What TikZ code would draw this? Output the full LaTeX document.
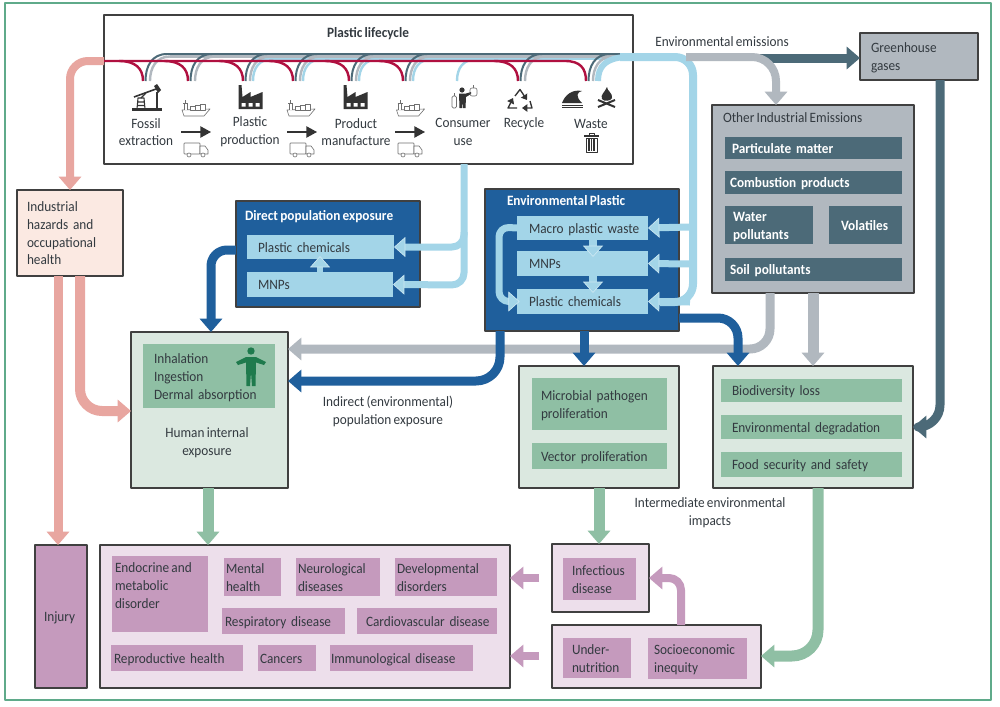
\documentclass[tikz,border=0pt]{standalone}
\usepackage{fontspec}
\setmainfont{Carlito}[FakeStretch=0.93,WordSpace=0.75]
\usetikzlibrary{arrows.meta,calc}
\definecolor{lb}{HTML}{A3D5E8}
\definecolor{halo}{HTML}{CBE7F2}
\definecolor{envblue}{HTML}{1F5F9C}
\definecolor{tealc}{HTML}{4C6A78}
\definecolor{greyc}{HTML}{B1B8BF}
\definecolor{greenc}{HTML}{8FBFA4}
\definecolor{palegreen}{HTML}{DBE8E0}
\definecolor{pinkc}{HTML}{E8A6A0}
\definecolor{palepink}{HTML}{FBE9E2}
\definecolor{purplec}{HTML}{C59ABD}
\definecolor{palepurple}{HTML}{EDDFEB}
\definecolor{redc}{HTML}{B01040}
\definecolor{framec}{HTML}{5FAA8A}
\definecolor{ink}{HTML}{333A40}
\definecolor{iconc}{HTML}{333333}
\definecolor{personc}{HTML}{1F7A4D}
\tikzset{
  txt/.style={text=ink,font=\fontsize{10.7}{13.3}\selectfont,inner sep=0pt,outer sep=0pt},
  boxed/.style={draw=#1,line width=0.9pt},
  plain/.style={line width=0pt,draw=none},
  outer/.style={boxed=black!75},
  wtxt/.style={text=white,font=\fontsize{10.7}{13.3}\selectfont\bfseries},
  arrw/.style n args={3}{draw=#1,line width=#2*0.75pt,rounded corners=#3*0.75pt,line cap=butt,
     -{Triangle[length=10pt,width=16.5pt]}},
  arrh/.style n args={2}{draw=lb,line width=#1*0.75pt,rounded corners=#2*0.75pt,
     -{Triangle[length=8.5pt,width=15pt,fill=lb,color=halo,line width=0.5pt]}},
  icon/.style={fill=iconc,draw=none},
  iconl/.style={draw=iconc!70,line width=0.45pt,fill=white},
  pipe/.style={line width=1.8pt,fill=none},
}
% \bx[options]{name}{x1}{y1}{x2}{y2}{pad}{text}
\newcommand\bx[7][]{%
  \pgfmathsetmacro\bxw{(#5-#3)*0.75}%
  \pgfmathsetmacro\bxp{#7*0.75}%
  \pgfmathsetmacro\bxh{(#6-#4)*0.75}%
  \pgfmathsetmacro\bxcx{(#3+#5)/2}%
  \pgfmathsetmacro\bxcy{(#4+#6)/2}%
  \bxnode{#1}{#2}%
}
\newcommand\bxnode[3]{%
  \node[txt,#1,align=left,anchor=center,inner xsep=0pt,inner ysep=0pt,
        text width=\bxw pt,minimum height=\bxh pt] (#2) at (\bxcx,\bxcy)
        {\hspace*{\bxp pt}\begin{tabular}{@{}l@{}}#3\end{tabular}\vspace*{-2.6pt}};%
}
\newcommand\shipicon[1]{\begin{scope}[shift={(#1,0)}]
  \draw[iconl] (0,110) -- (28,109) -- (22,116) -- (2,116) -- cycle;
  \draw[iconl] (2,110) -- (2,103) -- (5,103) -- (5,110);
  \draw[iconl] (1,103) -- (6,103) (3.5,103) -- (3.5,100);
  \draw[iconl] (8,110) rectangle (13,106);
  \draw[iconl] (13,110) rectangle (18,105);
  \draw[iconl] (18,110) rectangle (23,104);
\end{scope}}
\newcommand\truckicon[1]{\begin{scope}[shift={(#1,0)}]
  \draw[iconl,rounded corners=0.5pt] (0,143) rectangle (16,154);
  \draw[iconl] (16,146) -- (21,146) -- (24,150) -- (24,154) -- (16,154) -- cycle;
  \draw[iconl] (5,155) circle (2);
  \draw[iconl] (19,155) circle (2);
\end{scope}}
\newcommand\factoryicon[1]{\begin{scope}[shift={(#1,0)}]
  \fill[icon] (0,109) -- (0,85) -- (3,85) -- (4,97) -- (12,92) -- (12,97) -- (24,92) -- (24,109) -- cycle;
  \fill[white] (3,103) rectangle (7,106.5) (10,103) rectangle (14,106.5) (17,103) rectangle (21,106.5);
\end{scope}}
\begin{document}
\begin{tikzpicture}[x=0.75pt,y=-0.75pt,line join=round]
\useasboundingbox (0,0) rectangle (1000,707);
\fill[white] (0,0) rectangle (1000,707);
\draw[framec,line width=0.9pt] (5,3) rectangle (991,700);

% ---------- boxes
\bx[outer,fill=white]{life}{104}{15}{633}{164}{0}{}
\node[txt,font=\fontsize{10.7}{13.3}\selectfont\bfseries] (lifetitle) at (368,34) {Plastic lifecycle};
\node[txt,align=center] (lfossil) at (146,132) {Fossil\\extraction};
\node[txt,align=center] (lplastic) at (250,132) {Plastic\\production};
\node[txt,align=center] (lproduct) at (356,132) {Product\\manufacture};
\node[txt,align=center] (lconsumer) at (463,132) {Consumer\\use};
\node[txt] (lrecycle) at (524,124) {Recycle};
\node[txt] (lwaste) at (591,124) {Waste};

\bx[outer,fill=greyc]{gh}{860}{33}{978}{80}{11}{Greenhouse\\gases}
\node[txt] (emit) at (722,42) {Environmental emissions};

\bx[outer,fill=greyc]{oie}{712}{105}{914}{293}{0}{}
\node[txt,anchor=west] (oietitle) at (723,118) {Other Industrial Emissions};
\bx[plain,fill=tealc,wtxt]{pm}{725}{137}{902}{159}{7}{Particulate matter}
\bx[plain,fill=tealc,wtxt]{comb}{725}{171}{902}{194}{5}{Combustion products}
\bx[plain,fill=tealc,wtxt]{water}{725}{206}{813}{244}{8}{Water\\pollutants}
\bx[plain,fill=tealc,wtxt]{vol}{829}{206}{902}{244}{12}{Volatiles}
\bx[plain,fill=tealc,wtxt]{soil}{725}{258}{902}{281}{5}{Soil pollutants}

\bx[outer,fill=palepink]{ind}{17}{190}{123}{276}{10}{Industrial\\hazards and\\occupational\\health}

\bx[outer,fill=envblue]{dep}{236}{201}{420}{307}{0}{}
\node[txt,wtxt,anchor=west] (deptitle) at (245,217) {Direct population exposure};
\bx[plain,fill=lb]{dpc}{247}{235}{394}{259}{11}{Plastic chemicals}
\bx[plain,fill=lb]{dmnp}{247}{272}{393}{297}{11}{MNPs}

\bx[outer,fill=envblue]{ep}{485}{189}{679}{331}{0}{}
\node[txt,wtxt,anchor=west] (eptitle) at (507,201) {Environmental Plastic};
\bx[plain,fill=lb]{emacro}{517}{216}{648}{240}{12}{Macro plastic waste}
\bx[plain,fill=lb]{emnp}{517}{251}{648}{276}{12}{MNPs}
\bx[plain,fill=lb]{epc}{517}{289}{648}{314}{12}{Plastic chemicals}

\bx[outer,fill=palegreen]{hum}{131}{332}{288}{488}{0}{}
\bx[plain,fill=greenc]{humin}{143}{344}{275}{408}{11}{Inhalation\\Ingestion\\Dermal absorption}
\node[txt,align=center] (humtxt) at (207,443) {Human internal\\exposure};

\bx[outer,fill=palegreen]{micro}{519}{366}{679}{488}{0}{}
\bx[plain,fill=greenc]{mp}{532}{378}{667}{430}{9}{Microbial pathogen\\proliferation}
\bx[plain,fill=greenc]{vp}{532}{443}{667}{469}{9}{Vector proliferation}

\bx[outer,fill=palegreen]{bio}{713}{366}{913}{488}{0}{}
\bx[plain,fill=greenc]{bl}{721}{379}{902}{402}{11}{Biodiversity loss}
\bx[plain,fill=greenc]{ed}{721}{415}{902}{439}{11}{Environmental degradation}
\bx[plain,fill=greenc]{fs}{721}{452}{902}{477}{11}{Food security and safety}

\node[txt,align=center] (indirect) at (388,411.5) {Indirect (environmental)\\population exposure};
\node[txt,align=center] (interm) at (710,512.5) {Intermediate environmental\\impacts};

\bx[outer,fill=purplec]{inj}{35}{545}{87}{688}{9}{Injury}
\bx[outer,fill=palepurple]{dis}{100}{545}{510}{688}{0}{}
\bx[plain,fill=purplec]{endo}{112}{556}{208}{632}{0}{}
\node[txt,anchor=north west,align=left] (endotxt) at (115,563) {Endocrine and\\metabolic\\disorder};
\bx[plain,fill=purplec]{ment}{224}{558}{281}{596}{2}{Mental\\health}
\bx[plain,fill=purplec]{neur}{296}{558}{380}{596}{2}{Neurological\\diseases}
\bx[plain,fill=purplec]{devl}{395}{558}{497}{596}{2}{Developmental\\disorders}
\bx[plain,fill=purplec]{resp}{222}{608}{345}{634}{3}{Respiratory disease}
\bx[plain,fill=purplec]{card}{357}{608}{497}{634}{9}{Cardiovascular disease}
\bx[plain,fill=purplec]{repr}{111}{645}{243}{671}{3}{Reproductive health}
\bx[plain,fill=purplec]{canc}{258}{645}{316}{671}{2}{Cancers}
\bx[plain,fill=purplec]{immu}{330}{645}{473}{671}{1}{Immunological disease}

\bx[outer,fill=palepurple]{inf}{552}{544}{649}{612}{0}{}
\bx[plain,fill=purplec]{infi}{563}{558}{636}{600}{9}{Infectious\\disease}
\bx[outer,fill=palepurple]{und}{552}{625}{761}{688}{0}{}
\bx[plain,fill=purplec]{undi}{563}{638}{631}{678}{9}{Under-\\nutrition}
\bx[plain,fill=purplec]{soci}{648}{638}{747}{679}{6}{Socioeconomic\\inequity}

% ---------- pipes in the lifecycle
\draw[tealc,pipe] (165,54) -- (620,54);
\foreach \x in {243,293,349,403} {
  \draw[lb,line width=1.8pt] (\x+10,81) .. controls (\x+10,68) and (\x+16,59) .. (\x+30,59);
}
\draw[lb,line width=1.8pt] (253,59) -- (620,59);
\draw[lb,line width=1.8pt] (457,81) .. controls (457,68) and (463,59) .. (478,59);
\draw[greyc,pipe] (170,56.5) -- (620,56.5);
\foreach \x in {143,188,243,293,349,403,518,586} {
  \draw[greyc,line width=1.8pt] (\x+7,81) .. controls (\x+7,68) and (\x+13,56.5) .. (\x+27,56.5);
}
\foreach \x in {143,188,243,293,349,403,518,586} {
  \draw[tealc,line width=1.5pt] (\x+2.5,81) .. controls (\x+2.5,66) and (\x+9,54) .. (\x+24,54);
}
% ---------- connectors that leave the lifecycle
\draw[arrw={pinkc}{8}{18}] (life.west |- 0,61) -- (70,61) -- (ind.north -| 70,0);
\draw[lb,line width=4.5pt] (598,81) .. controls (598,66) and (606,58) .. (626,57);
\draw[lb,line width=6pt,rounded corners=13.5pt] (620,57) -- (693,57) -- (693,302) -- (660,302);
\draw[arrh={7}{10}] (690,302) -- (epc.east);
\draw[arrh={7}{10}] (690,227) -- (emacro.east);
\draw[arrh={7}{10}] (690,264) -- (emnp.east);
\draw[arrw={tealc}{9}{10}] (760,58) -- (gh.west |- 0,58);
\draw[arrw={greyc}{8}{24}] (686,57) -- (776,57) -- (oie.north -| 776,0);
\draw[redc,line width=1.8pt] (life.west |- 0,61) -- (565,61) .. controls (580,61) and (586,68) .. (586,81);
\foreach \x in {143,188,243,293,349,403,518} {
  \draw[redc,line width=1.8pt] (\x-24,61) .. controls (\x-8,61) and (\x,68) .. (\x,81);
}
\draw[arrh={7}{12}] (464,232) -- (464,247) -- (dpc.east);
\draw[arrh={7}{12}] (life.south -| 464,0) -- (464,285) -- (dmnp.east);
\draw[arrh={6}{6}] (dmnp.north -| 320,0) -- (320,256);
\draw[arrh={8}{10}] (emacro.south -| 593,0) -- (593,257);
\draw[arrh={8}{10}] (emnp.south -| 593,0) -- (593,293);
\draw[arrh={7}{10}] (emacro.west) -- (499,227) -- (499,301.5) -- ([xshift=2pt]epc.west);

\draw[arrw={greyc}{9}{20}] (oie.south -| 770,0) -- (770,349) -- (hum.east |- 0,349);
\draw[arrw={greyc}{11}{2}] (oie.south -| 813,0) -- (bio.north -| 813,0);
\draw[arrw={envblue}{9}{24}] (ep.south -| 500,0) -- (500,381) -- (hum.east |- 0,381);
\draw[arrw={envblue}{9}{2}] (ep.south -| 584,0) -- (micro.north -| 584,0);
\draw[arrw={envblue}{9}{20}] (ep.east |- 0,318) -- (738,318) -- (bio.north -| 738,0);
\draw[arrw={envblue}{9}{16}] (dep.west |- 0,250) -- (211,250) -- (hum.north -| 211,0);
\draw[arrw={pinkc}{9}{2}] (ind.south -| 58,0) -- (inj.north -| 58,0);
\draw[arrw={pinkc}{10}{22}] (ind.south -| 80,0) -- (80,411) -- (hum.west |- 0,411);
\draw[arrw={greenc}{11}{2}] (hum.south -| 208,0) -- (dis.north -| 208,0);
\draw[arrw={greenc}{11}{2}] (micro.south -| 599,0) -- (inf.north -| 599,0);
\draw[arrw={greenc}{11}{26}] (bio.south -| 818,0) -- (818,656) -- (und.east |- 0,656);
\draw[arrw={tealc}{9}{22}] (gh.south -| 940,0) -- (940,427) -- (bio.east |- 0,427);
\coordinate (pa) at (539,578);
\coordinate (pb) at (539,656);
\draw[arrw={purplec}{8}{2}] (pa) -- (dis.east |- pa);
\draw[arrw={purplec}{8}{2}] (pb) -- (dis.east |- pb);
\draw[arrw={purplec}{8}{12}] (und.north -| 681,0) -- (681,578) -- (inf.east |- 0,578);

% ---------- icons
% pumpjack
\fill[icon] (132,108) rectangle (162,110.5);
\draw[iconc,line width=0.8pt] (137,109) -- (138,98) -- (144,98) -- (145,109) (137.5,102) -- (144.5,102) (137.5,105.5) -- (144.5,105.5);
\draw[iconc,line width=1.2pt] (134,97) -- (156,89);
\draw[iconc,line width=1pt] (141,98) -- (146,93);
\draw[iconc,line width=1.2pt] (157,92) -- (157,109);
\fill[icon] (154,86) -- (157,84) -- (161,90) -- (158,93) -- cycle;
\factoryicon{238.5}
\factoryicon{343.5}
\shipicon{182}
\shipicon{287}
\shipicon{396.5}
\truckicon{184}
\truckicon{290}
\truckicon{398}
\foreach \x in {181,287,395} {
  \draw[iconc,line width=1pt,-{Triangle[length=8pt,width=8.5pt]}] (\x,132) -- (\x+30,132);
}
% consumer
\fill[icon] (462,90) circle (2.6);
\fill[icon] (459,93.5) -- (466,93.5) -- (471,92) -- (471,94) -- (466,97) -- (465.5,108) -- (463,108) -- (462.5,101) -- (462,108) -- (459.5,108) -- cycle;
\draw[iconl,fill=none,rounded corners=1pt] (452,108) rectangle (456.5,96);
\draw[iconl,fill=none] (454,96) -- (454,93);
\draw[iconl,fill=none,rounded corners=1.5pt] (470,88) rectangle (477,96);
\draw[iconl,fill=none] (473.5,88) -- (473.5,85);
% recycle
\begin{scope}[iconc,line width=1pt]
\draw[-{Triangle[length=4pt,width=5.5pt]}] (515,96) -- (520,89.5) -- (527,100);
\draw[-{Triangle[length=4pt,width=5.5pt]}] (530,101) -- (532,108) -- (522,108);
\draw[-{Triangle[length=4pt,width=5.5pt]}] (517,108) -- (508,108) -- (513,98);
\end{scope}
% wave
\fill[icon] (562,103) .. controls (565,95) and (572,89) .. (582,91) .. controls (577,92) and (575,96) .. (582,103) -- cycle;
\draw[iconc,line width=0.7pt] (562,105) -- (583,105) (562,107.5) -- (583,107.5);
% fire
\fill[icon] (607,87) .. controls (607,91) and (613,93) .. (612,98) .. controls (611,101) and (604,102) .. (602,99) .. controls (600,95) and (605,92) .. cycle;
\draw[iconc,line width=1.5pt] (598,100) -- (615,107) (615,100) -- (598,107);
% bin
\fill[icon] (584,135) rectangle (599,137);
\draw[iconc,line width=0.6pt] (589,135) -- (589,133) -- (594,133) -- (594,135);
\draw[iconc,line width=0.7pt] (586,138) rectangle (597,152);
\draw[iconc,line width=0.9pt] (589,139) -- (589,151) (591.5,139) -- (591.5,151) (594,139) -- (594,151);
% person
\fill[personc] (251,351) circle (3.7);
\fill[personc] (246,357) -- (256,357) -- (264,361) -- (266,362) -- (264,365) -- (256,362.5) -- (255.5,386) -- (252,386) -- (251,372) -- (250,386) -- (246.5,386) -- (246,362.5) -- (238,365) -- (236,362) -- (238,361) -- cycle;
\end{tikzpicture}
\end{document}
